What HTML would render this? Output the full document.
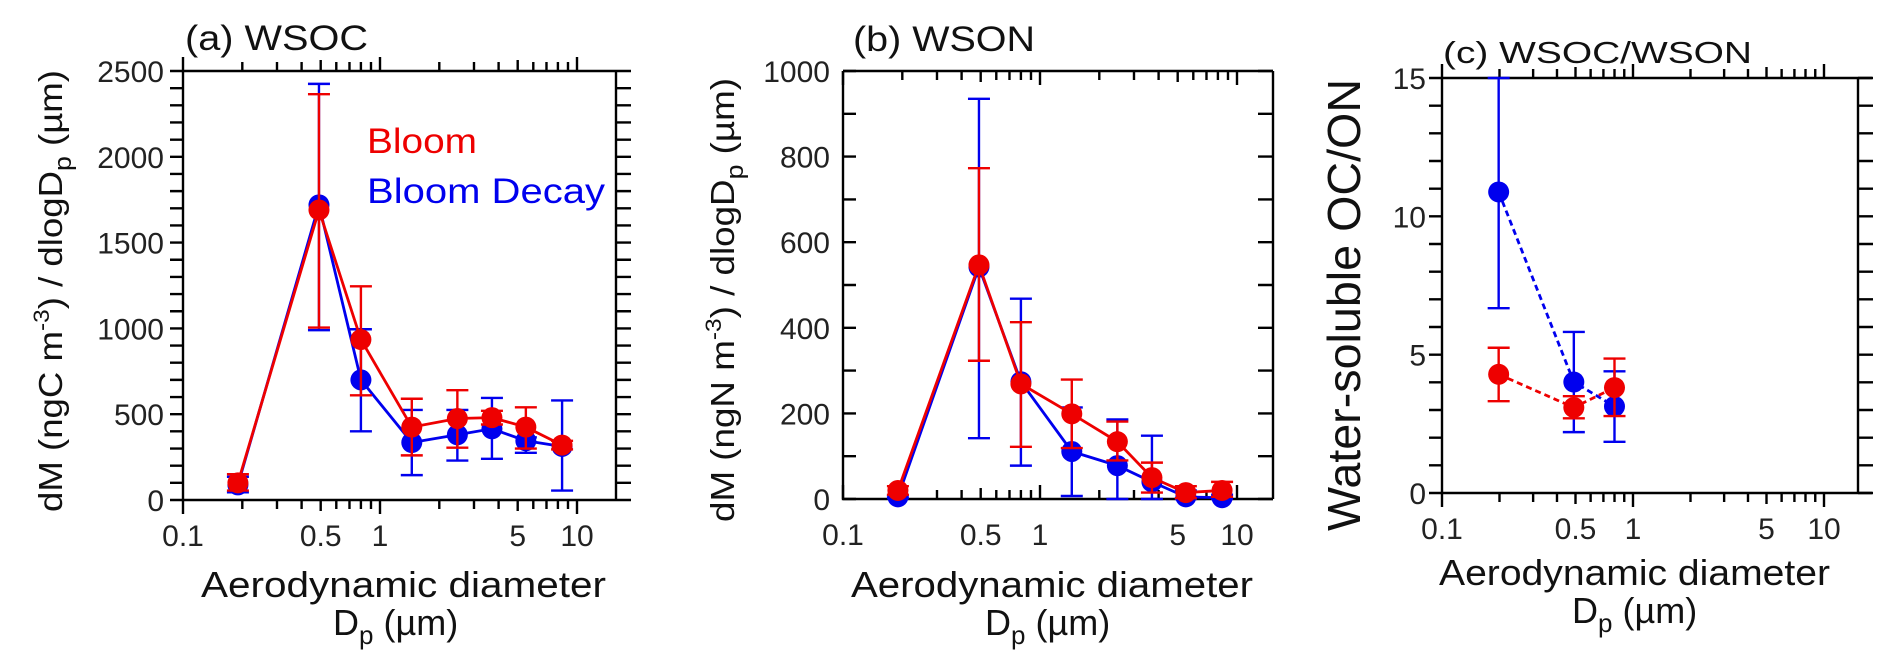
<!DOCTYPE html>
<html><head><meta charset="utf-8"><style>
html,body{margin:0;padding:0;background:#fff;}
svg{display:block;font-family:"Liberation Sans","DejaVu Sans",sans-serif;}
</style></head><body>
<svg id="fig" width="1892" height="669" viewBox="0 0 1892 669" xmlns="http://www.w3.org/2000/svg"></svg>
<script>
// ---- data ----
const diamA = [0.19, 0.49, 0.8, 1.45, 2.47, 3.7, 5.5, 8.4];
const wsocBloom = [100, 1690, 935, 425, 475, 480, 425, 320];
const wsocBloomHi = [150, 2365, 1245, 590, 640, 520, 540, 345];
const wsocBloomLo = [55, 1005, 610, 260, 305, 440, 300, 295];
const wsocDecay = [88, 1720, 700, 335, 380, 415, 345, 312];
const wsocDecayHi = [135, 2425, 995, 525, 525, 595, 365, 580];
const wsocDecayLo = [45, 990, 400, 145, 230, 240, 275, 55];

const wsonBloom = [20, 547, 269, 199, 134, 50, 15, 20];
const wsonBloomHi = [30, 773, 413, 279, 181, 85, 30, 40];
const wsonBloomLo = [10, 323, 122, 119, 90, 15, 2, 5];
const wsonDecay = [5, 542, 274, 111, 78, 40, 5, 3];
const wsonDecayHi = [8, 935, 468, 214, 186, 148, 20, 10];
const wsonDecayLo = [2, 142, 78, 7, 0, 0, 0, 0];

const diamC = [0.198, 0.49, 0.8];
const ratioBloom = [4.29, 3.09, 3.81];
const ratioBloomHi = [5.25, 3.5, 4.86];
const ratioBloomLo = [3.32, 2.7, 2.78];
const ratioDecay = [10.88, 4.01, 3.13];
const ratioDecayHi = [15, 5.82, 4.4];
const ratioDecayLo = [6.68, 2.2, 1.85];

const xTickVals = [0.1, 0.5, 1, 5, 10];
const xTickLabels = ["0.1", "0.5", "1", "5", "10"];
const yTicksA = [0, 500, 1000, 1500, 2000, 2500];
const yTicksB = [0, 200, 400, 600, 800, 1000];
const yTicksC = [0, 5, 10, 15];

const NS = "http://www.w3.org/2000/svg";
const svg = document.getElementById("fig");
function mk(tag, attrs, parent, text) {
  const e = document.createElementNS(NS, tag);
  for (const k in attrs) e.setAttribute(k, attrs[k]);
  if (text !== undefined) e.textContent = text;
  (parent || svg).appendChild(e);
  return e;
}

function panel(p) {
  const g = mk("g", {});
  
  
  const X = v => p.x0 + (Math.log10(v) + 1) * p.dec;
  const Y = v => p.bot - (v - p.ymin) / (p.ymax - p.ymin) * (p.bot - p.top);
  const st = {stroke: "#000", "stroke-width": 2.4, fill: "none"};
  const o = p.out ? 1 : -1;
  const fr = mk("path", Object.assign({d: `M${p.x0},${p.top} V${p.bot} H${p.hEnd} M${p.x0},${p.top} H${p.hEnd} M${p.right},${p.top} V${p.bot}`}, st), g);
  
  
  let d = "";
  for (let e = -1; e <= 1; e++) for (let m = 1; m <= 9; m++) {
    const v = m * Math.pow(10, e); const x = X(v);
    if (x > p.right + 1) continue;
    const L = m === 1 ? 14 : (m === 5 ? 11 : 9);
    d += `M${x},${p.bot} v${L * o} M${x},${p.top} v${-L * o} `;
  }
  const xt = mk("path", Object.assign({d: d}, st), g);
  
  
  xTickVals.forEach((v, i) => {
    const t = mk("text", {x: X(v), y: p.bot + 46, "font-size": 30, "text-anchor": "middle", fill: "#222"}, g, xTickLabels[i]);
    
    
  });
  d = "";
  for (let v = p.ymin; v <= p.ymax + 1e-9; v += p.minor) {
    const y = Y(v);
    d += `M${p.x0},${y} h${-13 * o} M${p.right},${y} h${15 * o} `;
  }
  const yt = mk("path", Object.assign({d: d}, st), g);
  
  
  p.yTicks.forEach(v => {
    const t = mk("text", {x: p.ylX, y: Y(v) + 11, "font-size": 30, "text-anchor": "end", fill: "#222"}, g, String(v));
    
    
  });
  const ti = mk("text", {x: p.titleX, y: p.titleY, "font-size": p.titleFs, fill: "#111", textLength: p.titleW, lengthAdjust: "spacingAndGlyphs"}, g, p.title);
  
  
  const xa = mk("text", {x: p.xtX, y: p.xtY, "font-size": 36, fill: "#111", textLength: p.xtW, lengthAdjust: "spacingAndGlyphs"}, g, "Aerodynamic diameter");
  
  
  const xb = mk("text", {x: p.dpX, y: p.xtY + 38, "font-size": 36, fill: "#111"}, g);
  
  
  mk("tspan", {}, xb, "D");
  mk("tspan", {dy: 9, "font-size": 26}, xb, "p");
  mk("tspan", {dy: -9}, xb, " (µm)");
  const ya = mk("text", Object.assign({transform: `translate(${p.ytX},${p.ytY}) rotate(-90)`, "font-size": p.ytFs, fill: "#111", "text-anchor": "middle"}, p.ytW ? {textLength: p.ytW, lengthAdjust: "spacingAndGlyphs"} : {}), g);
  
  
  p.ytParts.forEach(pt => mk("tspan", pt[1], ya, pt[0]));
  p.series.forEach(s => {
    const sg = mk("g", {}, g);
    
    
    const pts = s.x.map((v, i) => `${X(v)},${Y(s.y[i])}`).join(" ");
    const ln = mk("polyline", {points: pts, fill: "none", stroke: s.color, "stroke-width": 2.8, "stroke-dasharray": s.dash || "none"}, sg);
    
    
    s.x.forEach((v, i) => {
      const x = X(v), yh = Y(Math.min(s.hi[i], p.ymax)), yl = Y(s.lo[i]);
      const eb = mk("path", {d: `M${x},${yh} V${yl} M${x - 11},${yh} h22 M${x - 11},${yl} h22`, stroke: s.color, "stroke-width": 2.4, fill: "none"}, sg);
      
      
    });
    s.x.forEach((v, i) => {
      const c = mk("circle", {cx: X(v), cy: Y(s.y[i]), r: 10.5, fill: s.color}, sg);
      
      
    });
  });
  return g;
}

panel({name: "panel-a-wsoc", x0: 183, right: 616, hEnd: 616, top: 71, bot: 500, dec: 197, out: true,
  ymin: 0, ymax: 2500, minor: 100, yTicks: yTicksA, ylX: 164,
  title: "(a) WSOC", titleX: 185, titleY: 50, titleFs: 35, titleW: 183,
  xtX: 201, xtY: 597, xtW: 405, dpX: 333,
  ytX: 62, ytY: 291, ytFs: 33, ytW: 442,
  ytParts: [["dM (ngC m", {}], ["-3", {dy: -13, "font-size": 22}], [") / dlogD", {dy: 13}], ["p", {dy: 9, "font-size": 24}], [" (µm)", {dy: -9}]],
  series: [
    {name: "series-bloom-decay", color: "#0000ee", x: diamA, y: wsocDecay, hi: wsocDecayHi, lo: wsocDecayLo},
    {name: "series-bloom", color: "#ee0000", x: diamA, y: wsocBloom, hi: wsocBloomHi, lo: wsocBloomLo}
  ]});

panel({name: "panel-b-wson", x0: 843, right: 1273, hEnd: 1273, top: 71, bot: 499, dec: 197, out: false,
  ymin: 0, ymax: 1000, minor: 100, yTicks: yTicksB, ylX: 830,
  title: "(b) WSON", titleX: 853, titleY: 51, titleFs: 35, titleW: 182,
  xtX: 851, xtY: 597, xtW: 402, dpX: 985,
  ytX: 734, ytY: 300, ytFs: 33, ytW: 444,
  ytParts: [["dM (ngN m", {}], ["-3", {dy: -13, "font-size": 22}], [") / dlogD", {dy: 13}], ["p", {dy: 9, "font-size": 24}], [" (µm)", {dy: -9}]],
  series: [
    {name: "series-bloom-decay", color: "#0000ee", x: diamA, y: wsonDecay, hi: wsonDecayHi, lo: wsonDecayLo},
    {name: "series-bloom", color: "#ee0000", x: diamA, y: wsonBloom, hi: wsonBloomHi, lo: wsonBloomLo}
  ]});

panel({name: "panel-c-ratio", x0: 1442, right: 1858, hEnd: 1872, top: 78, bot: 493, dec: 191, out: true,
  ymin: 0, ymax: 15, minor: 1, yTicks: yTicksC, ylX: 1426,
  title: "(c) WSOC/WSON", titleX: 1443, titleY: 63, titleFs: 31, titleW: 309,
  xtX: 1439, xtY: 585, xtW: 391, dpX: 1572,
  ytX: 1360, ytY: 305, ytFs: 46, ytW: 452,
  ytParts: [["Water-soluble  OC/ON", {}]],
  series: [
    {name: "series-bloom-decay", color: "#0000ee", x: diamC, y: ratioDecay, hi: ratioDecayHi, lo: ratioDecayLo, dash: "6,4"},
    {name: "series-bloom", color: "#ee0000", x: diamC, y: ratioBloom, hi: ratioBloomHi, lo: ratioBloomLo, dash: "6,4"}
  ]});

const lg = mk("g", {});


const l1 = mk("text", {x: 367, y: 153, "font-size": 35, fill: "#ee0000", textLength: 110, lengthAdjust: "spacingAndGlyphs"}, lg, "Bloom");


const l2 = mk("text", {x: 367, y: 203, "font-size": 35, fill: "#0000ee", textLength: 238, lengthAdjust: "spacingAndGlyphs"}, lg, "Bloom Decay");


</script>
</body></html>
